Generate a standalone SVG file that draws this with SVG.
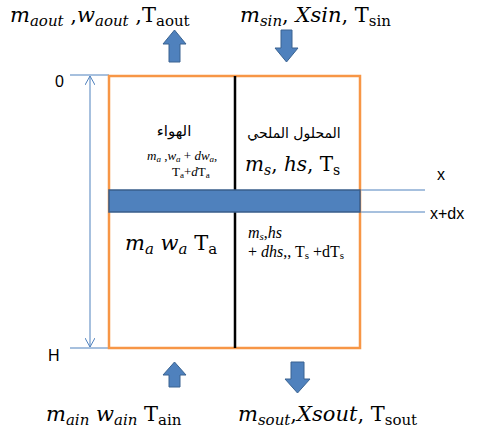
<svg xmlns="http://www.w3.org/2000/svg" width="479" height="433" viewBox="0 0 479 433">
<style>
.m{font-family:"Liberation Serif","DejaVu Serif",serif;font-style:italic;fill:#000}
.r{font-family:"Liberation Serif","DejaVu Serif",serif;font-style:normal;fill:#000}
.big .m{font-family:"DejaVu Serif","Liberation Serif",serif}
.big .r{font-family:"DejaVu Serif","Liberation Serif",serif}
.s{font-family:"Liberation Sans","DejaVu Sans",sans-serif;fill:#000}
.ar{font-family:"DejaVu Sans","Noto Sans",sans-serif;fill:#000}
.arrow{fill:#4f81bd;stroke:#3a6391;stroke-width:1}
.thin{stroke:#4f81bd;stroke-width:1;fill:none}
</style>
<defs>
<marker id="oa" viewBox="0 0 10 10" refX="9" refY="5" markerWidth="10" markerHeight="10" orient="auto-start-reverse" markerUnits="userSpaceOnUse">
<path d="M0,0 L9,5 L0,10" fill="none" stroke="#4f81bd" stroke-width="1"/>
</marker>
</defs>
<g id="connectors">
<line class="thin" x1="70" y1="75" x2="109" y2="75"/>
<line class="thin" x1="70" y1="348" x2="109" y2="348"/>
<line class="thin" x1="90" y1="76" x2="90" y2="347" marker-start="url(#oa)" marker-end="url(#oa)"/>
<line class="thin" x1="360" y1="190" x2="425" y2="190"/>
<line class="thin" x1="360" y1="212" x2="425" y2="212"/>
<path id="arrow-top-up" class="arrow" d="M169,62 L169,44 L163,44 L174.5,30 L186,44 L180,44 L180,62 Z"/>
<path id="arrow-top-down" class="arrow" d="M281,30 L281,48 L275,48 L286.5,62 L298,48 L292,48 L292,30 Z"/>
<path id="arrow-bot-up" class="arrow" d="M169,387 L169,375 L163,375 L174.5,362 L186,375 L180,375 L180,387 Z"/>
<path id="arrow-bot-down" class="arrow" d="M291,362 L291,379 L285,379 L297.5,393 L310,379 L304,379 L304,362 Z"/>
</g>
<g id="box">
<rect x="109" y="76" width="251" height="272" fill="#fff" stroke="#f79646" stroke-width="2.5"/>
<line x1="235" y1="76" x2="235" y2="348" stroke="#000" stroke-width="2.5"/>
</g>
<g id="element">
<rect x="109" y="190" width="251" height="22" fill="#4f81bd" stroke="#385d8a" stroke-width="1.5"/>
</g>
<g id="axis-labels">
<text class="s" x="55" y="87" font-size="16">0</text>
<text class="s" x="48" y="361" font-size="16">H</text>
<text class="s" x="437" y="180" font-size="16">x</text>
<text class="s" x="430" y="219" font-size="16">x+dx</text>
</g>
<g id="top-left-label" class="big">
<text x="10" y="22" font-size="21"><tspan class="m">m</tspan><tspan class="m" font-size="15" dy="4">aout</tspan><tspan class="r" dy="-4"> ,</tspan><tspan class="m">w</tspan><tspan class="m" font-size="15" dy="4">aout</tspan><tspan class="r" dy="-4">  ,T</tspan><tspan class="r" font-size="15" dy="4">aout</tspan></text>
</g>
<g id="top-right-label" class="big">
<text x="240" y="22" font-size="21"><tspan class="m">m</tspan><tspan class="m" font-size="15" dy="4">sin</tspan><tspan class="r" dy="-4">, </tspan><tspan class="m">Xsin</tspan><tspan class="r">, T</tspan><tspan class="r" font-size="15" dy="4">sin</tspan></text>
</g>
<g id="air-upper">
<text class="ar" x="174" y="136" font-size="15" text-anchor="middle" direction="rtl">الهواء</text>
<text x="147" y="160" font-size="13"><tspan class="m">m</tspan><tspan class="m" font-size="9" dy="2">a</tspan><tspan class="r" dy="-2"> ,</tspan><tspan class="m">w</tspan><tspan class="m" font-size="9" dy="2">a</tspan><tspan class="r" dy="-2">  + </tspan><tspan class="m">dw</tspan><tspan class="m" font-size="9" dy="2">a</tspan><tspan class="r" dy="-2">,</tspan></text>
<text x="172" y="176" font-size="13"><tspan class="r">T</tspan><tspan class="r" font-size="9" dy="2">a</tspan><tspan class="r" dy="-2">+</tspan><tspan class="m">d</tspan><tspan class="r">T</tspan><tspan class="r" font-size="9" dy="2">a</tspan></text>
</g>
<g id="solution-upper" class="big">
<text class="ar" x="294" y="138" font-size="14" text-anchor="middle" direction="rtl">المحلول الملحي</text>
<text x="245" y="171" font-size="20"><tspan class="m">m</tspan><tspan class="m" font-size="14" dy="4">s</tspan><tspan class="r" dy="-4">, </tspan><tspan class="m">hs</tspan><tspan class="r">, T</tspan><tspan class="r" font-size="14" dy="4">s</tspan></text>
</g>
<g id="air-lower" class="big">
<text x="125" y="250" font-size="21"><tspan class="m">m</tspan><tspan class="m" font-size="15" dy="4">a</tspan><tspan class="m" dy="-4"> w</tspan><tspan class="m" font-size="15" dy="4">a</tspan><tspan class="r" dy="-4"> T</tspan><tspan class="r" font-size="15" dy="4">a</tspan></text>
</g>
<g id="solution-lower">
<text x="248" y="238" font-size="16"><tspan class="m">m</tspan><tspan class="m" font-size="11" dy="2">s</tspan><tspan class="r" dy="-2">,</tspan><tspan class="m">hs</tspan></text>
<text x="248" y="257" font-size="16"><tspan class="r">+ </tspan><tspan class="m">dhs</tspan><tspan class="r">,, T</tspan><tspan class="r" font-size="11" dy="2">s</tspan><tspan class="r" dy="-2"> +dT</tspan><tspan class="r" font-size="11" dy="2">s</tspan></text>
</g>
<g id="bottom-left-label" class="big">
<text x="46" y="421" font-size="21"><tspan class="m">m</tspan><tspan class="m" font-size="15" dy="4">ain</tspan><tspan class="m" dy="-4"> w</tspan><tspan class="m" font-size="15" dy="4">ain</tspan><tspan class="r" dy="-4"> T</tspan><tspan class="r" font-size="15" dy="4">ain</tspan></text>
</g>
<g id="bottom-right-label" class="big">
<text x="238" y="421" font-size="21"><tspan class="m">m</tspan><tspan class="m" font-size="15" dy="4">sout</tspan><tspan class="r" dy="-4">,</tspan><tspan class="m">Xsout</tspan><tspan class="r">, T</tspan><tspan class="r" font-size="15" dy="4">sout</tspan></text>
</g>
</svg>
